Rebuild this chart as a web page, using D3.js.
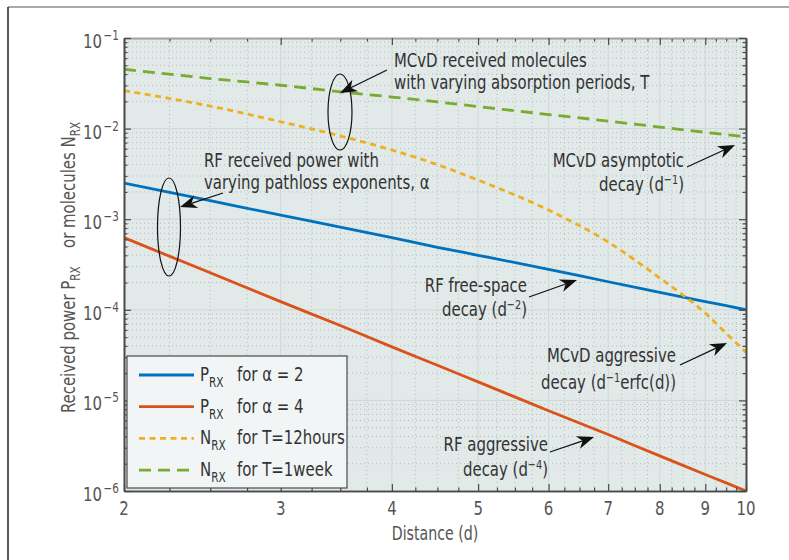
<!DOCTYPE html>
<html>
<head>
<meta charset="utf-8">
<script src="https://cdn.jsdelivr.net/npm/d3@7"></script>
<style>
  body { margin: 0; background: #fff; }
  svg { display: block; font-family: "Liberation Sans Narrow", "DejaVu Sans Condensed", "DejaVu Sans", sans-serif; }
</style>
</head>
<body>
<svg id="chart" width="789" height="560"></svg>
<script>
// distances (d) where the curves were read
const distance = [2, 2.5, 3, 3.5, 4, 4.5, 5, 6, 7, 8, 9, 9.5, 10];
// P_RX for alpha = 2
const prxAlpha2 = [2.5e-3, 1.6e-3, 1.11e-3, 8.2e-4, 6.25e-4, 4.9e-4, 4.0e-4, 2.8e-4, 2.04e-4, 1.56e-4, 1.23e-4, 1.11e-4, 1.0e-4];
// P_RX for alpha = 4
const prxAlpha4 = [6.25e-4, 2.56e-4, 1.23e-4, 6.7e-5, 3.9e-5, 2.44e-5, 1.6e-5, 7.7e-6, 4.2e-6, 2.44e-6, 1.52e-6, 1.23e-6, 1.0e-6];
// N_RX for T = 12 hours
const nrx12h = [0.0262, 0.0177, 0.0119, 0.0083, 0.0058, 0.0040, 0.0027, 0.00126, 5.6e-4, 2.24e-4, 9.2e-5, 5.5e-5, 3.4e-5];
// N_RX for T = 1 week
const nrx1w = [0.0452, 0.0357, 0.0301, 0.0255, 0.0223, 0.0197, 0.0175, 0.0143, 0.0121, 0.0104, 0.0091, 0.0086, 0.0081];

const xMajor = [2, 3, 4, 5, 6, 7, 8, 9, 10];
const yDecades = [-6, -5, -4, -3, -2, -1];

const series = [
  { name: "P", sub: "RX", rest: "for \u03b1 = 2", values: prxAlpha2, color: "#0072bd", dash: null },
  { name: "P", sub: "RX", rest: "for \u03b1 = 4", values: prxAlpha4, color: "#d95319", dash: null },
  { name: "N", sub: "RX", rest: "for T=12hours", values: nrx12h, color: "#edb120", dash: "6,4.5" },
  { name: "N", sub: "RX", rest: "for T=1week", values: nrx1w, color: "#77ac30", dash: "12,7" }
];

const svg = d3.select("#chart");
const pL = 124, pR = 746, pT = 38, pB = 491;
const SX = 0.83; // squeeze text horizontally to mimic the condensed face

const x = d3.scaleLog().domain([2, 10]).range([pL, pR]);
const y = d3.scaleLog().domain([1e-6, 1e-1]).range([pB, pT]);

// condensed text helper
function label(parent, xp, yp, anchor, size, fill, rot) {
  return parent.append("g")
    .attr("transform", `translate(${xp},${yp})${rot ? " rotate(" + rot + ")" : ""} scale(${SX},1)`)
    .append("text")
    .attr("text-anchor", anchor).attr("font-size", size).attr("fill", fill);
}

// figure frame (top and left edges only)
svg.append("line").attr("x1", 8).attr("y1", 7).attr("x2", 789).attr("y2", 7)
  .attr("stroke", "#8c8c8c").attr("stroke-width", 1.5);
svg.append("line").attr("x1", 8).attr("y1", 7).attr("x2", 8).attr("y2", 560)
  .attr("stroke", "#222").attr("stroke-width", 1.5);

// plot background
svg.append("rect").attr("x", pL).attr("y", pT)
  .attr("width", pR - pL).attr("height", pB - pT)
  .attr("fill", "#e1e9e9");

// tick values
const xMinor = d3.range(2, 10.001, 0.25).filter(v => !xMajor.includes(v));
const yMajor = yDecades.map(e => Math.pow(10, e));
const yMinor = [];
yDecades.slice(0, -1).forEach(e => {
  for (let k = 2; k <= 9; k++) yMinor.push(k * Math.pow(10, e));
});

// grid
const grid = svg.append("g");
grid.selectAll(".gxm").data(xMinor).join("line")
  .attr("x1", d => x(d)).attr("x2", d => x(d)).attr("y1", pT).attr("y2", pB)
  .attr("stroke", "#b4bcbc").attr("stroke-width", 1).attr("stroke-dasharray", "1,3");
grid.selectAll(".gym").data(yMinor).join("line")
  .attr("y1", d => y(d)).attr("y2", d => y(d)).attr("x1", pL).attr("x2", pR)
  .attr("stroke", "#b4bcbc").attr("stroke-width", 1).attr("stroke-dasharray", "1,3");
grid.selectAll(".gxM").data(xMajor.slice(1, -1)).join("line")
  .attr("x1", d => x(d)).attr("x2", d => x(d)).attr("y1", pT).attr("y2", pB)
  .attr("stroke", "#d0d7d7").attr("stroke-width", 1);
grid.selectAll(".gyM").data(yMajor.slice(1, -1)).join("line")
  .attr("y1", d => y(d)).attr("y2", d => y(d)).attr("x1", pL).attr("x2", pR)
  .attr("stroke", "#d0d7d7").attr("stroke-width", 1);

// curves
const line = d3.line()
  .x((d, i) => x(distance[i]))
  .y(d => y(d))
  .curve(d3.curveMonotoneX);

svg.append("clipPath").attr("id", "clip")
  .append("rect").attr("x", pL).attr("y", pT).attr("width", pR - pL).attr("height", pB - pT);

const curves = svg.append("g").attr("clip-path", "url(#clip)");
series.forEach(s => {
  curves.append("path")
    .datum(s.values)
    .attr("d", line)
    .attr("fill", "none")
    .attr("stroke", s.color)
    .attr("stroke-width", 2.8)
    .attr("stroke-dasharray", s.dash);
});

// axes with inward ticks
function styleAxis(g) {
  g.select(".domain").attr("stroke", "#4a4a4a").attr("stroke-width", 1.6);
  g.selectAll(".tick line").attr("stroke", "#4a4a4a").attr("stroke-width", 1.2);
}
const axisColor = "#555";

svg.append("g").attr("transform", `translate(0,${pB})`)
  .call(d3.axisBottom(x).tickValues(xMinor).tickSize(-3.5).tickFormat("").tickSizeOuter(0))
  .call(styleAxis);
svg.append("g").attr("transform", `translate(0,${pB})`)
  .call(d3.axisBottom(x).tickValues(xMajor).tickSize(-7).tickFormat("").tickSizeOuter(0))
  .call(styleAxis);

svg.append("g").attr("transform", `translate(0,${pT})`)
  .call(d3.axisTop(x).tickValues(xMinor).tickSize(-3.5).tickFormat("").tickSizeOuter(0))
  .call(styleAxis);
svg.append("g").attr("transform", `translate(0,${pT})`)
  .call(d3.axisTop(x).tickValues(xMajor).tickSize(-7).tickFormat("").tickSizeOuter(0))
  .call(styleAxis)
  .call(g => g.select(".domain").attr("stroke", "#a0a6a6").attr("stroke-width", 1));

svg.append("g").attr("transform", `translate(${pL},0)`)
  .call(d3.axisLeft(y).tickValues(yMinor).tickSize(-3.5).tickFormat("").tickSizeOuter(0))
  .call(styleAxis);
svg.append("g").attr("transform", `translate(${pL},0)`)
  .call(d3.axisLeft(y).tickValues(yMajor).tickSize(-7).tickFormat("").tickSizeOuter(0))
  .call(styleAxis);
svg.append("g").attr("transform", `translate(${pR},0)`)
  .call(d3.axisRight(y).tickValues(yMinor).tickSize(-3.5).tickFormat("").tickSizeOuter(0))
  .call(styleAxis);
svg.append("g").attr("transform", `translate(${pR},0)`)
  .call(d3.axisRight(y).tickValues(yMajor).tickSize(-7).tickFormat("").tickSizeOuter(0))
  .call(styleAxis);

// tick labels
const tickLab = svg.append("g");
xMajor.forEach(v => {
  label(tickLab, x(v), 515, "middle", 20, axisColor).text(v);
});
yDecades.forEach(e => {
  const t = label(tickLab, 119, y(Math.pow(10, e)) + 10, "end", 20, axisColor);
  t.append("tspan").text("10");
  t.append("tspan").attr("dx", 2).attr("dy", -8).attr("font-size", 14).text("\u2212" + (-e));
});

// axis titles
label(svg, (pL + pR) / 2, 540, "middle", 19, axisColor).text("Distance (d)");

const yt = label(svg, 75, (pT + pB) / 2 + 3, "middle", 20, axisColor, -90);
yt.append("tspan").text("Received power P");
yt.append("tspan").attr("font-size", 14).attr("dy", 5).text("RX");
yt.append("tspan").attr("dy", -5).attr("dx", 22).text("or molecules N");
yt.append("tspan").attr("font-size", 14).attr("dy", 5).text("RX");

// legend
const lg = svg.append("g");
lg.append("rect").attr("x", 127).attr("y", 356).attr("width", 220).attr("height", 132)
  .attr("fill", "#f2f5f5").attr("stroke", "#4a4a4a").attr("stroke-width", 1.2);
series.forEach((s, i) => {
  const ly = 375 + i * 31.7;
  lg.append("line").attr("x1", 139).attr("x2", 194).attr("y1", ly).attr("y2", ly)
    .attr("stroke", s.color).attr("stroke-width", 2.8).attr("stroke-dasharray", s.dash);
  const t = label(lg, 200, ly + 6, "start", 20, "#333");
  t.append("tspan").text(s.name);
  t.append("tspan").attr("font-size", 14).attr("dy", 6).text(s.sub);
  label(lg, 237, ly + 6, "start", 20, "#333").text(s.rest);
});

// annotations
const ann = svg.append("g");

function textLines(xp, lines, anchor) {
  lines.forEach(l => {
    const t = label(ann, xp, l.y, anchor, 20, "#333");
    l.parts.forEach(p => {
      if (p.sup) {
        t.append("tspan").attr("font-size", 13).attr("dy", -7).text(p.sup);
      } else {
        t.append("tspan").attr("dy", p.back ? 7 : 0).text(p.t);
      }
    });
  });
}

function arrow(x1, y1, x2, y2) {
  const ang = Math.atan2(y2 - y1, x2 - x1);
  const len = 17, half = 6.5, notch = 12;
  const bx = x2 - len * Math.cos(ang), by = y2 - len * Math.sin(ang);
  const nx = x2 - notch * Math.cos(ang), ny = y2 - notch * Math.sin(ang);
  const px = -Math.sin(ang), py = Math.cos(ang);
  svg.append("line").attr("x1", x1).attr("y1", y1).attr("x2", nx).attr("y2", ny)
    .attr("stroke", "#111").attr("stroke-width", 1.3);
  svg.append("path")
    .attr("d", `M${x2},${y2}L${bx + px * half},${by + py * half}L${nx},${ny}L${bx - px * half},${by - py * half}Z`)
    .attr("fill", "#111");
}

function ellipse(cx, cy, rx, ry) {
  svg.append("ellipse").attr("cx", cx).attr("cy", cy).attr("rx", rx).attr("ry", ry)
    .attr("fill", "none").attr("stroke", "#111").attr("stroke-width", 1.2);
}

textLines(394, [
  { y: 67, parts: [{ t: "MCvD received molecules" }] },
  { y: 89, parts: [{ t: "with varying absorption periods, T" }] }
], "start");
arrow(387, 70, 340, 93);
ellipse(340, 112, 12, 38);

textLines(204, [
  { y: 167, parts: [{ t: "RF received power with" }] },
  { y: 189, parts: [{ t: "varying pathloss exponents, \u03b1" }] }
], "start");
arrow(223, 193, 180, 207);
ellipse(169, 227, 11.5, 49);

textLines(684, [
  { y: 167, parts: [{ t: "MCvD asymptotic" }] },
  { y: 191, parts: [{ t: "decay (d" }, { sup: "\u22121" }, { t: ")", back: true }] }
], "end");
arrow(687, 167, 735, 145);

textLines(527, [
  { y: 292, parts: [{ t: "RF free-space" }] },
  { y: 316, parts: [{ t: "decay (d" }, { sup: "\u22122" }, { t: ")", back: true }] }
], "end");
arrow(529, 297, 577, 280);

textLines(676, [
  { y: 362, parts: [{ t: "MCvD aggressive" }] },
  { y: 389, parts: [{ t: "decay (d" }, { sup: "\u22121" }, { t: "erfc(d))", back: true }] }
], "end");
arrow(680, 365, 727, 343);

textLines(548, [
  { y: 451, parts: [{ t: "RF aggressive" }] },
  { y: 476, parts: [{ t: "decay (d" }, { sup: "\u22124" }, { t: ")", back: true }] }
], "end");
arrow(550, 452, 594, 437);
</script>
</body>
</html>
